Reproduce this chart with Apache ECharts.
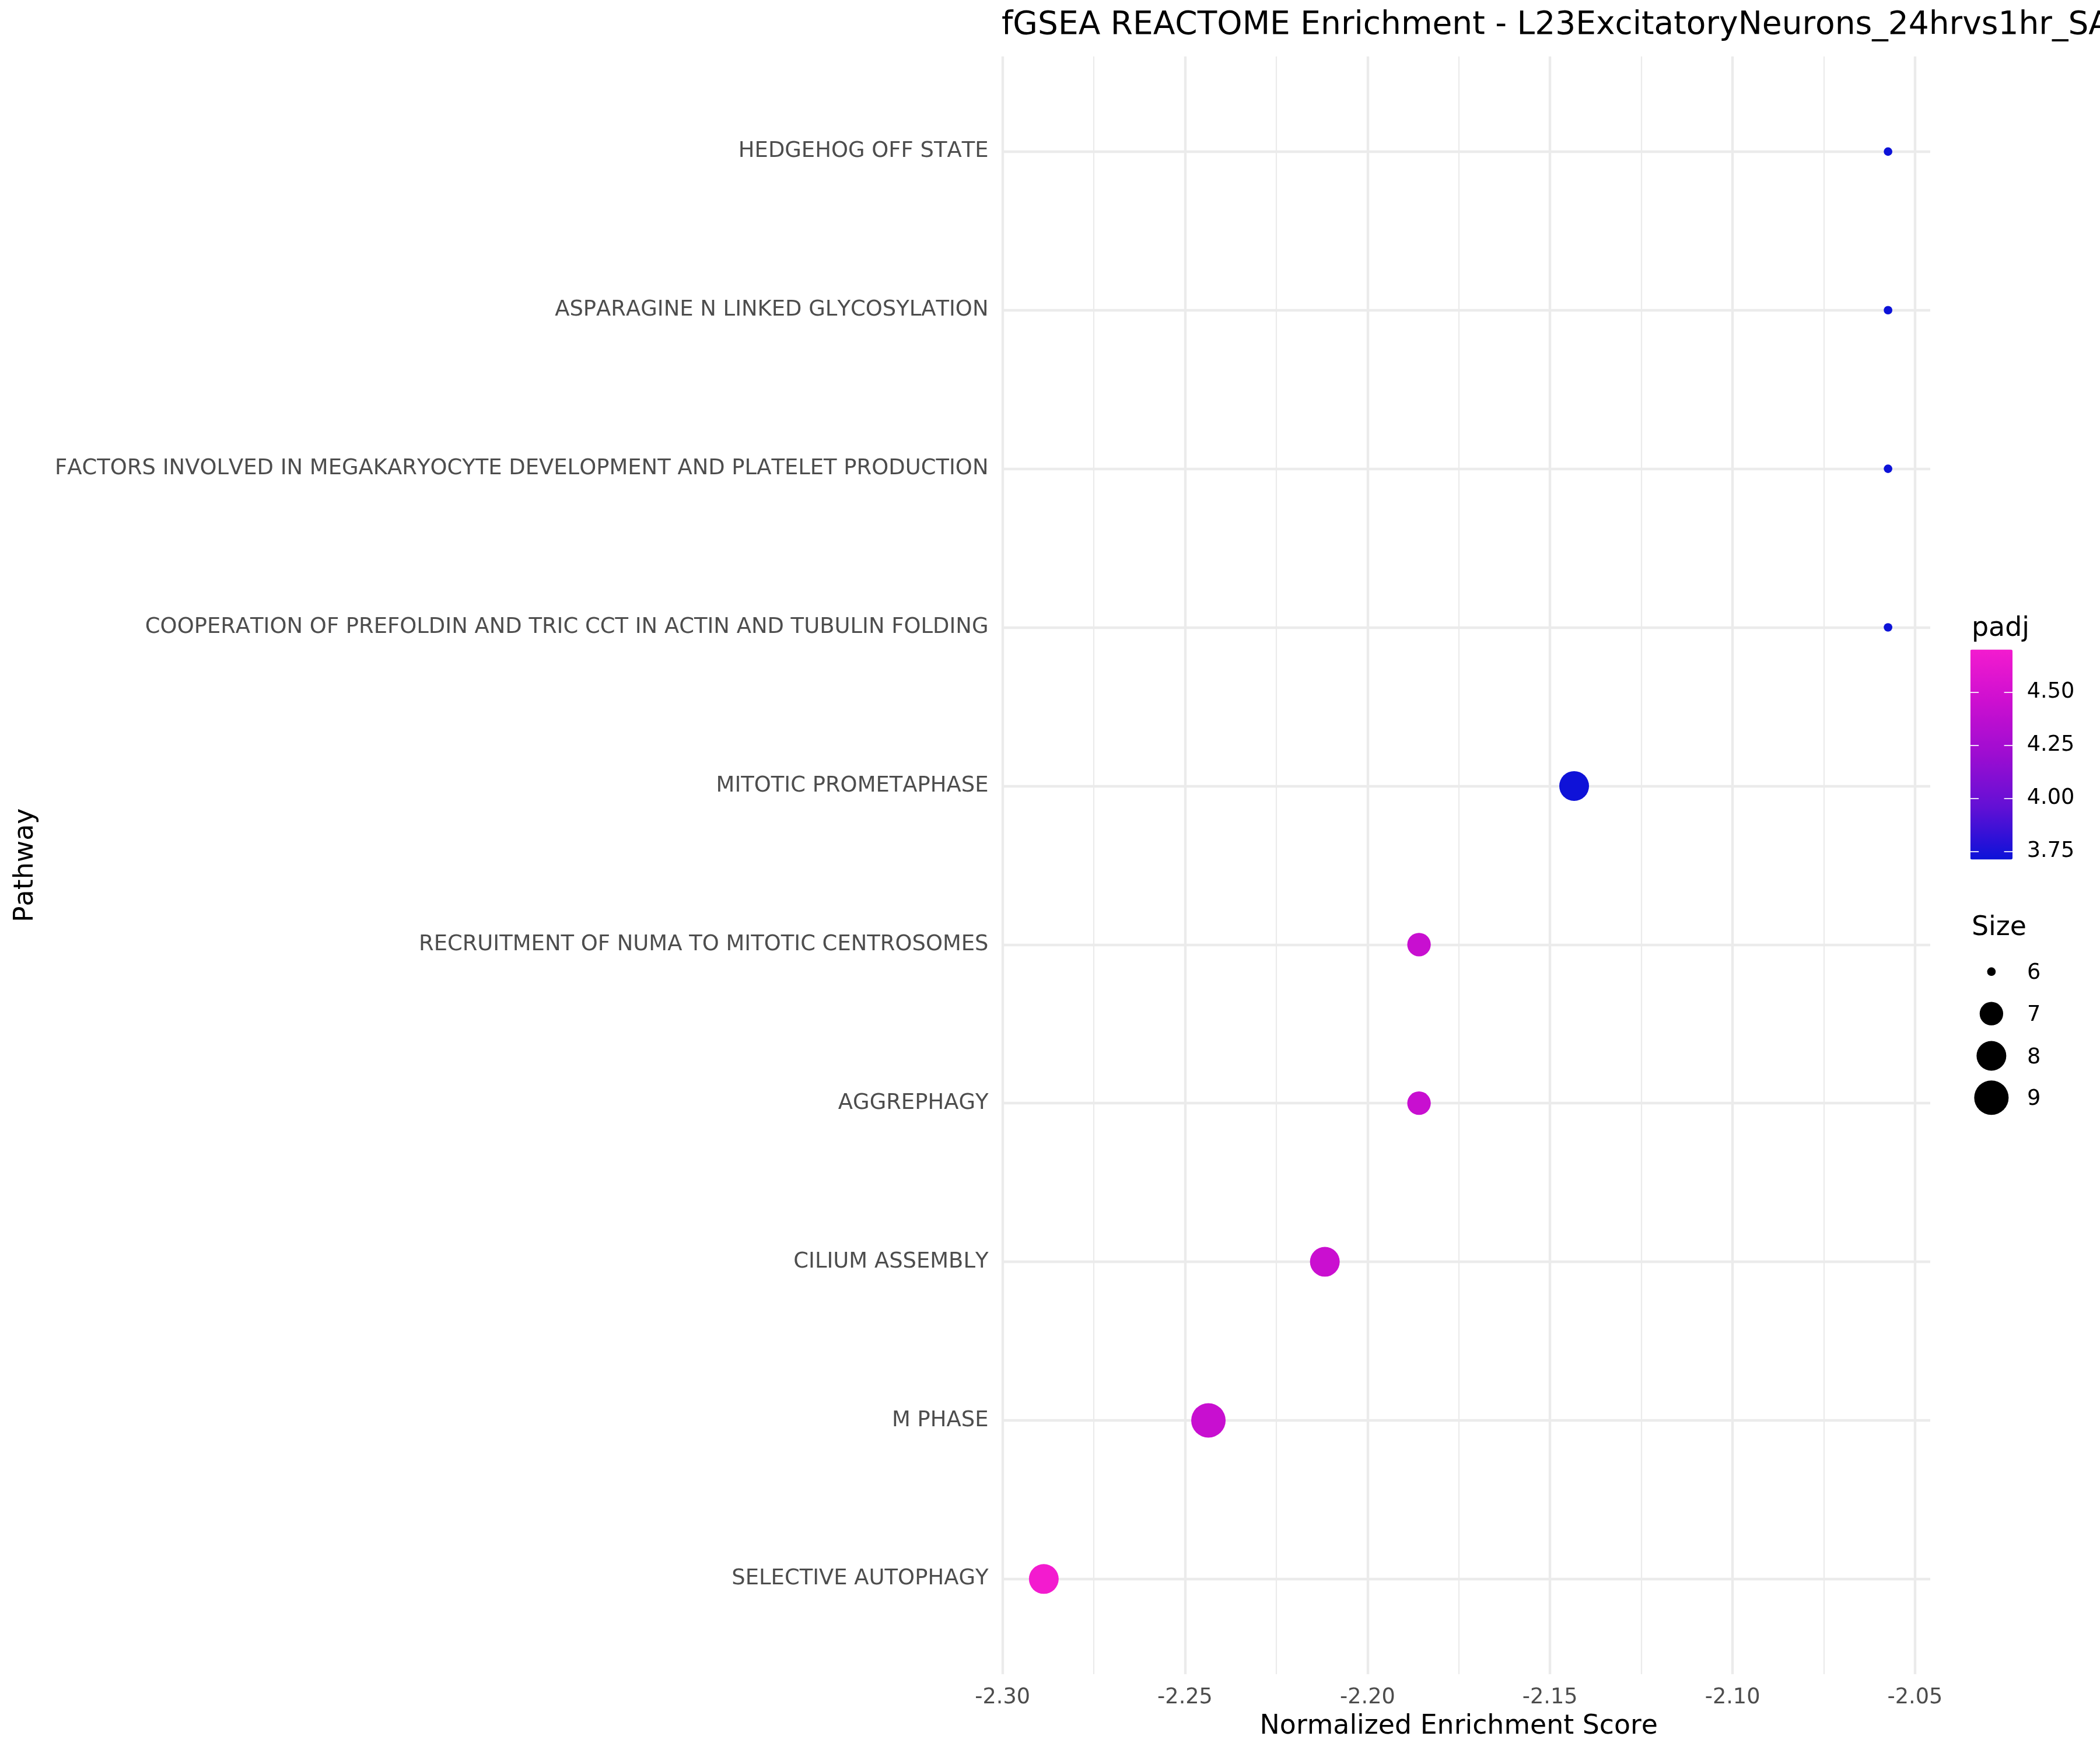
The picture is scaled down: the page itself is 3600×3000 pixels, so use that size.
<!DOCTYPE html>
<html>
<head>
<meta charset="utf-8">
<script src="https://cdn.jsdelivr.net/npm/echarts@6/dist/echarts.min.js"></script>
<style>
  html, body { margin: 0; padding: 0; background: #ffffff; }
  #chart { width: 3600px; height: 3000px; }
</style>
</head>
<body>
<div id="chart"></div>
<script>
// ---------------- DATA ----------------
const pathways = [
  "HEDGEHOG OFF STATE",
  "ASPARAGINE N LINKED GLYCOSYLATION",
  "FACTORS INVOLVED IN MEGAKARYOCYTE DEVELOPMENT AND PLATELET PRODUCTION",
  "COOPERATION OF PREFOLDIN AND TRIC CCT IN ACTIN AND TUBULIN FOLDING",
  "MITOTIC PROMETAPHASE",
  "RECRUITMENT OF NUMA TO MITOTIC CENTROSOMES",
  "AGGREPHAGY",
  "CILIUM ASSEMBLY",
  "M PHASE",
  "SELECTIVE AUTOPHAGY"
];
const nes = [-2.0574, -2.0574, -2.0574, -2.0574, -2.1434, -2.1859, -2.1859, -2.2117, -2.2436, -2.2887];
const padj = [3.712, 3.712, 3.712, 3.712, 3.72, 4.43, 4.43, 4.44, 4.43, 4.70];
const geneSetSize = [6, 6, 6, 6, 8, 7, 7, 8, 9, 8];

const xTicks = [-2.30, -2.25, -2.20, -2.15, -2.10, -2.05];
const padjBreaks = [3.75, 4.00, 4.25, 4.50];
const sizeBreaks = [6, 7, 8, 9];

const titleText = "fGSEA REACTOME Enrichment - L23ExcitatoryNeurons_24hrvs1hr_SA";
const xTitle = "Normalized Enrichment Score";
const yTitle = "Pathway";
const colorTitle = "padj";
const sizeTitle = "Size";

// ---------------- text rendering: no kerning (as in the reference) ----------------
(function () {
  const P = CanvasRenderingContext2D.prototype;
  const ft = P.fillText, mt = P.measureText;
  P.fillText = function () { try { this.fontKerning = "none"; } catch (e) {} return ft.apply(this, arguments); };
  P.measureText = function () { try { this.fontKerning = "none"; } catch (e) {} return mt.apply(this, arguments); };
})();

// ---------------- STYLE / LAYOUT ----------------
const FONT = "DejaVu Sans";
const GRID_COL = "#EBEBEB";
const AXIS_TXT = "#4D4D4D";
const sizeDiamPx = [14.7, 40.3, 51, 59];           // diameter for sizeBreaks
const colorStops = ["#0C12D8", "#6210D5", "#9D0DD1", "#CC0FD0", "#F31BCF"];

function diam(v) {
  for (let i = 0; i < sizeBreaks.length - 1; i++) {
    if (v <= sizeBreaks[i + 1]) {
      const t = (v - sizeBreaks[i]) / (sizeBreaks[i + 1] - sizeBreaks[i]);
      return sizeDiamPx[i] + t * (sizeDiamPx[i + 1] - sizeDiamPx[i]);
    }
  }
  return sizeDiamPx[sizeDiamPx.length - 1];
}

const plotLeft = 1717, plotRight = 3309;
const panelTop = 96.7, panelBottom = 2870;
const nRows = pathways.length;
const unit = (panelBottom - panelTop) / (nRows - 1 + 1.2);
const firstRow = panelTop + 0.6 * unit;
const lastRow = panelBottom - 0.6 * unit;

const dMin = Math.min(...nes), dMax = Math.max(...nes);
const xMin = dMin - 0.05 * (dMax - dMin);
const xMax = dMax + 0.05 * (dMax - dMin);
const ppu = (plotRight - plotLeft) / (xMax - xMin);
const g2Left = plotLeft + (xTicks[0] - xMin) * ppu;
const g2Width = (xTicks[xTicks.length - 1] - xTicks[0]) * ppu;

const pMin = Math.min(...padj), pMax = Math.max(...padj);
const cbLeft = 3377.7, cbTop = 1113.5, cbW = 72.3, cbH = 360;
const legendCx = cbLeft + cbW / 2;
const sizeLegendY = [1665.7, 1737.7, 1810, 1881.7];
const TXT_SHIFT = 3; // push middle-aligned glyphs down to match reference

const seriesData = pathways.map((p, i) => [nes[i], p, padj[i], geneSetSize[i]]);

const graphics = [
  { type: "text", x: 44, y: (panelTop + panelBottom) / 2, rotation: Math.PI / 2,
    style: { text: yTitle, fill: "#000", font: "45.8px '" + FONT + "'", textAlign: "center", textVerticalAlign: "middle" } },
  { type: "text", x: 3380, y: 1074.7 + TXT_SHIFT,
    style: { text: colorTitle, fill: "#000", font: "45.8px '" + FONT + "'", textAlign: "left", textVerticalAlign: "middle" } },
  { type: "text", x: 3380, y: 1588 + TXT_SHIFT,
    style: { text: sizeTitle, fill: "#000", font: "45.8px '" + FONT + "'", textAlign: "left", textVerticalAlign: "middle" } }
];
sizeBreaks.forEach((s, i) => {
  graphics.push({ type: "circle", shape: { cx: legendCx, cy: sizeLegendY[i], r: diam(s) / 2 }, style: { fill: "#000" } });
  graphics.push({ type: "text", x: 3475, y: sizeLegendY[i] + TXT_SHIFT,
    style: { text: String(s), fill: "#000", font: "36.67px '" + FONT + "'", textAlign: "left", textVerticalAlign: "middle" } });
});

const chart = echarts.init(document.getElementById("chart"), null, { renderer: "canvas", width: 3600, height: 3000 });
chart.setOption({
  backgroundColor: "#ffffff",
  animation: false,
  textStyle: { fontFamily: FONT },
  title: {
    text: titleText, left: plotLeft, top: 12, padding: 0,
    textStyle: { fontFamily: FONT, fontSize: 55, fontWeight: "normal", color: "#000", lineHeight: 64 }
  },
  grid: [
    { left: plotLeft, top: firstRow, width: plotRight - plotLeft, height: lastRow - firstRow, containLabel: false },
    { left: g2Left, top: panelTop, width: g2Width, height: panelBottom - panelTop, containLabel: false },
    { left: cbLeft, top: cbTop, width: cbW, height: cbH, containLabel: false }
  ],
  xAxis: [
    { gridIndex: 0, type: "value", min: xMin, max: xMax, show: false, splitLine: { show: false } },
    { gridIndex: 1, type: "value", min: xTicks[0], max: xTicks[xTicks.length - 1], interval: 0.05,
      axisLine: { show: false }, axisTick: { show: false },
      minorTick: { show: false, splitNumber: 2 },
      axisLabel: { color: AXIS_TXT, fontSize: 36.67, fontFamily: FONT, margin: 20, lineHeight: 40,
        formatter: v => v.toFixed(2) },
      splitLine: { show: true, lineStyle: { color: GRID_COL, width: 4.4 } },
      minorSplitLine: { show: true, lineStyle: { color: GRID_COL, width: 2.2 } },
      name: xTitle, nameLocation: "middle", nameGap: 63,
      nameTextStyle: { color: "#000", fontSize: 45.8, fontFamily: FONT, lineHeight: 50 }
    },
    { gridIndex: 2, type: "value", min: 0, max: 1, show: false }
  ],
  yAxis: [
    { gridIndex: 0, type: "category", data: pathways, inverse: true, boundaryGap: false,
      axisLine: { show: false }, axisTick: { show: false },
      axisLabel: { color: AXIS_TXT, fontSize: 36.9, fontFamily: FONT, margin: 22.5, interval: 0,
        padding: [6, 0, 0, 0] },
      splitLine: { show: true, interval: 0, lineStyle: { color: GRID_COL, width: 4.4 } }
    },
    { gridIndex: 1, type: "value", min: 0, max: 1, show: false },
    { gridIndex: 2, type: "value", position: "left", min: pMin, max: pMax, z: 10,
      axisLine: { show: false }, splitLine: { show: false },
      axisTick: { show: true, inside: true, length: 14.4, customValues: padjBreaks, lineStyle: { color: "#ffffff", width: 1.7 } },
      axisLabel: { show: false, customValues: padjBreaks }
    },
    { gridIndex: 2, type: "value", position: "right", min: pMin, max: pMax, z: 10,
      axisLine: { show: false }, splitLine: { show: false },
      axisTick: { show: true, inside: true, length: 14.4, customValues: padjBreaks, lineStyle: { color: "#ffffff", width: 1.7 } },
      axisLabel: { show: true, customValues: padjBreaks, color: "#000", fontSize: 36.67, fontFamily: FONT, margin: 24.7,
        padding: [6, 0, 0, 0], formatter: v => Number(v).toFixed(2) }
    }
  ],
  visualMap: [{
    type: "continuous", seriesIndex: 0, dimension: 2, min: pMin, max: pMax,
    inRange: { color: colorStops },
    orient: "vertical", left: cbLeft, top: cbTop, itemWidth: cbW, itemHeight: cbH,
    padding: 0, calculable: false, hoverLink: false, text: null, z: 1
  }],
  series: [{
    type: "scatter", xAxisIndex: 0, yAxisIndex: 0,
    data: seriesData,
    encode: { x: 0, y: 1 },
    symbol: "circle",
    symbolSize: v => diam(v[3]),
    itemStyle: { opacity: 1 },
    z: 5
  }],
  graphic: graphics
});
</script>
</body>
</html>
